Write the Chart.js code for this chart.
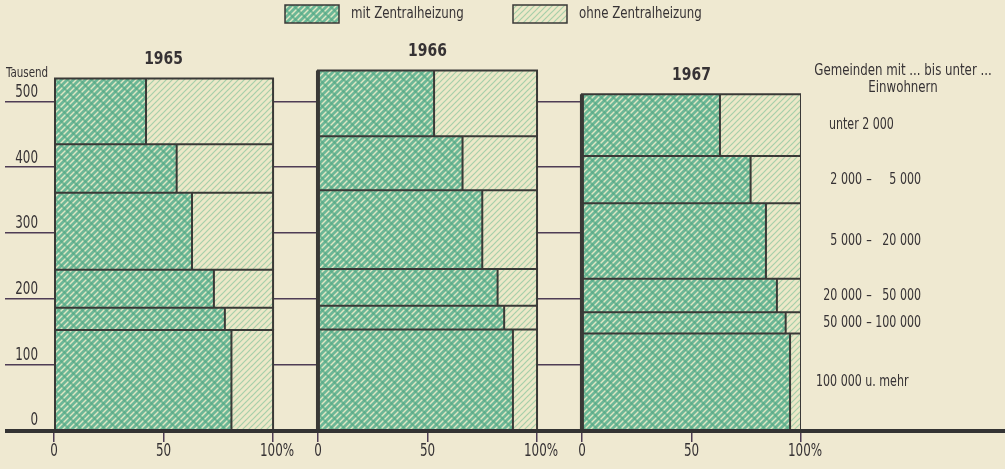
<!DOCTYPE html>
<html lang="de">
<head>
<meta charset="utf-8">
<title>Wohnungen mit und ohne Zentralheizung</title>
<script src="https://cdn.jsdelivr.net/npm/chart.js@4.4.1/dist/chart.umd.min.js"></script>
<style>
  html, body { margin: 0; padding: 0; background: #efe9d1; }
  #wrap { width: 1005px; height: 469px; position: relative; }
</style>
</head>
<body>
<div id="wrap"><canvas id="chart"></canvas></div>
<script>
// Jahre (Felder von links nach rechts)
const years = ['1965', '1966', '1967'];
// Gemeindegrößenklassen, von unten nach oben
const classes = ['100 000 u. mehr', '50 000 – 100 000', '20 000 – 50 000', '5 000 – 20 000', '2 000 – 5 000', 'unter 2 000'];

// Wohnungen in Tausend je Größenklasse (Bandhöhe)
const wohnungen1965 = [152, 34, 58, 117, 74, 100];
const wohnungen1966 = [153, 36, 56, 120, 82, 100];
const wohnungen1967 = [147, 32, 51, 115, 72, 94];

// Anteil mit Zentralheizung in % (Rest: ohne)
const mitAnteil1965 = [81, 78, 73, 63, 56, 42];
const mitAnteil1966 = [89, 85, 82, 75, 66, 53];
const mitAnteil1967 = [95, 93, 89, 84, 77, 63];

const yTicks = [0, 100, 200, 300, 400, 500];
const xTickLabels = ['0', '50', '100%'];
const legendLabels = ['mit Zentralheizung', 'ohne Zentralheizung'];
const headerLines = ['Gemeinden mit ... bis unter ...', 'Einwohnern'];

const FONT = "'Liberation Sans Narrow', 'Arial Narrow', 'DejaVu Sans Condensed', sans-serif";
const INK = '#363234';
const RULE = '#4e3d55';
const PANEL_STEP = 120.5;
const SQUEEZE = 0.82;

function makePattern(kind) {
    const c = document.createElement('canvas');
    const s = kind === 'mit' ? 12 : 6;
    c.width = s; c.height = s;
    const g = c.getContext('2d');
    if (kind === 'mit') {
        g.fillStyle = '#6cb797';
        g.fillRect(0, 0, s, s);
        g.strokeStyle = '#dfe8c4';
        g.lineWidth = 1.4;
        for (let k = 0; k <= 4; k++) {
            const c0 = k * 6;
            g.beginPath(); g.moveTo(c0 + 1, -1); g.lineTo(c0 - s - 1, s + 1); g.stroke();
        }
        g.strokeStyle = 'rgba(86,168,132,0.7)';
        g.lineWidth = 2;
        for (const c0 of [-s, 0, s]) {
            g.beginPath(); g.moveTo(c0 - 1, -1); g.lineTo(c0 + s + 1, s + 1); g.stroke();
        }
    } else {
        g.fillStyle = '#ece8c8';
        g.fillRect(0, 0, s, s);
        g.strokeStyle = '#a6cfa9';
        g.lineWidth = 1.2;
        for (const c0 of [0, s, 2 * s]) {
            g.beginPath(); g.moveTo(c0 + 1, -1); g.lineTo(c0 - s - 1, s + 1); g.stroke();
        }
    }
    return g.createPattern(c, 'repeat');
}

const mitPattern = makePattern('mit');
const ohnePattern = makePattern('ohne');

const wohnungen = [wohnungen1965, wohnungen1966, wohnungen1967];
const mitAnteil = [mitAnteil1965, mitAnteil1966, mitAnteil1967];

function fillSet(x0, x1, lo, hi, bg) {
    return {
        data: [{ x: x0, y: hi }, { x: x1, y: hi }],
        fill: { value: lo },
        backgroundColor: bg,
        borderColor: 'rgba(0,0,0,0)',
        borderWidth: 0,
        pointRadius: 0,
        order: 2
    };
}

function outlineSet(pts, w) {
    return {
        data: pts,
        fill: false,
        borderColor: '#3a3937',
        borderWidth: w,
        pointRadius: 0,
        order: 1
    };
}

const datasets = [];
years.forEach((yr, p) => {
    const off = p * PANEL_STEP;
    let lo = 0;
    wohnungen[p].forEach((h, i) => {
        const hi = lo + h;
        const m = off + mitAnteil[p][i];
        datasets.push(fillSet(off, m, lo, hi, mitPattern));
        datasets.push(fillSet(m, off + 100, lo, hi, ohnePattern));
        datasets.push(outlineSet([{ x: off, y: lo }, { x: off, y: hi }, { x: off + 100, y: hi }, { x: off + 100, y: lo }], 2));
        datasets.push(outlineSet([{ x: m, y: lo }, { x: m, y: hi }], 2));
        lo = hi;
    });
    // kräftige linke Kante
    datasets.push(outlineSet([{ x: off, y: 0 }, { x: off, y: lo }], 4));
});

const xTickValues = [];
years.forEach((yr, p) => [0, 50, 100].forEach(v => xTickValues.push(p * PANEL_STEP + v)));

// schmal gesetzter Text (Schrift der Vorlage ist sehr schmal)
function narrowText(ctx, str, x, y, align, sq) {
    ctx.save();
    ctx.translate(x, y);
    ctx.scale(sq || SQUEEZE, 1);
    ctx.textAlign = align;
    ctx.fillText(str, 0, 0);
    ctx.restore();
}

const decor = {
    id: 'decor',
    beforeDraw(chart) {
        const ctx = chart.ctx;
        ctx.save();
        ctx.fillStyle = '#efe9d1';
        ctx.fillRect(0, 0, chart.width, chart.height);
        ctx.restore();
    },
    afterDatasetsDraw(chart) {
        const { ctx, scales: { x, y } } = chart;
        ctx.save();
        // Grundlinie
        const y0 = y.getPixelForValue(0);
        ctx.fillStyle = '#333';
        ctx.fillRect(5, y0 - 1, chart.width - 5, 4);

        ctx.fillStyle = INK;
        ctx.textBaseline = 'middle';

        // Achsenbeschriftungen aus den Skalen
        ctx.font = "17px " + FONT;
        y.ticks.forEach(t => narrowText(ctx, String(t.value), 38, y.getPixelForValue(t.value) - 9, 'right', 0.78));
        x.ticks.forEach((t, i) => narrowText(ctx, xTickLabels[i % 3], x.getPixelForValue(t.value) + (i % 3 === 2 ? 4 : 0), 452, 'center', 0.78));

        // Jahrestitel über jedem Feld
        ctx.font = "bold 18px " + FONT;
        years.forEach((yr, p) => {
            const top = wohnungen[p].reduce((a, b) => a + b, 0);
            narrowText(ctx, yr, x.getPixelForValue(p * PANEL_STEP + 50), y.getPixelForValue(top) - 19, 'center', 0.86);
        });

        // Einheit
        ctx.font = "14px " + FONT;
        narrowText(ctx, 'Tausend', 6, y0 - 357, 'left');

        // Größenklassen rechts, auf Höhe der Bänder von 1967
        ctx.font = "16px " + FONT;
        narrowText(ctx, headerLines[0], 903, 71, 'center');
        narrowText(ctx, headerLines[1], 903, 88, 'center');
        ctx.font = "15px " + FONT;
        let lo = 0;
        wohnungen1967.forEach((h, i) => {
            const yc = y.getPixelForValue(lo + h / 2);
            const parts = classes[i].split(' – ');
            if (parts.length === 2) {
                narrowText(ctx, parts[0], 862, yc, 'right');
                narrowText(ctx, '–', 869, yc, 'center');
                narrowText(ctx, parts[1], 921, yc, 'right');
            } else {
                narrowText(ctx, classes[i], i === 0 ? 816 : 829, yc, 'left');
            }
            lo += h;
        });

        // Legende
        ctx.font = "16px " + FONT;
        [[285, mitPattern], [513, ohnePattern]].forEach(([bx, pat], i) => {
            ctx.fillStyle = pat;
            ctx.fillRect(bx, 5, 54, 18);
            ctx.strokeStyle = '#3a3937';
            ctx.lineWidth = 1.5;
            ctx.strokeRect(bx, 5, 54, 18);
            ctx.fillStyle = INK;
            narrowText(ctx, legendLabels[i], bx + 66, 14, 'left');
        });
        ctx.restore();
    }
};

Chart.defaults.font.family = FONT;
Chart.defaults.color = INK;

new Chart(document.getElementById('chart'), {
    type: 'line',
    data: { datasets: datasets },
    options: {
        responsive: true,
        maintainAspectRatio: false,
        animation: false,
        events: [],
        layout: { padding: { top: 62, left: 5, right: 204, bottom: 0 } },
        plugins: { legend: { display: false }, tooltip: { enabled: false } },
        scales: {
            x: {
                type: 'linear',
                min: 0,
                max: 2 * PANEL_STEP + 100,
                afterBuildTicks: s => { s.ticks = xTickValues.map(v => ({ value: v })); },
                afterFit: s => { s.height = 39; },
                border: { display: false },
                grid: { drawOnChartArea: false, drawTicks: true, tickLength: 12, color: RULE, lineWidth: 1.5 },
                ticks: { display: false, autoSkip: false, maxRotation: 0 }
            },
            y: {
                type: 'linear',
                min: 0,
                max: 560,
                afterBuildTicks: s => { s.ticks = yTicks.map(v => ({ value: v })); },
                afterFit: s => { s.width = 49; },
                border: { display: false },
                grid: { drawOnChartArea: true, drawTicks: true, tickLength: 49, color: RULE, lineWidth: 1.5 },
                ticks: { display: false }
            }
        }
    },
    plugins: [decor]
});
</script>
</body>
</html>
